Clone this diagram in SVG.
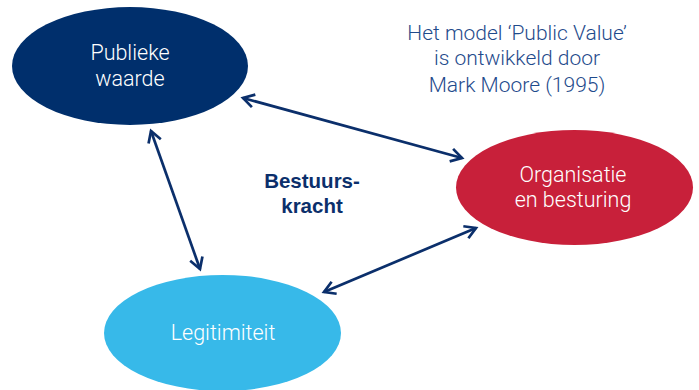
<svg xmlns="http://www.w3.org/2000/svg" width="699" height="390" viewBox="0 0 699 390">
<defs>
<style>
.lbl{font-family:Roboto,"Liberation Sans",Arial,sans-serif;font-weight:300;font-size:21.5px;fill:#ffffff;text-anchor:middle}
.note{font-family:Roboto,"Liberation Sans",Arial,sans-serif;font-weight:300;font-size:21px;fill:#1f4b8c;text-anchor:middle}
.bold{font-family:"Liberation Sans",Arial,sans-serif;font-weight:bold;font-size:20.5px;fill:#0b2f6b;text-anchor:middle}
.conn{stroke:#0b2f6b;stroke-width:2.7;fill:none;marker-start:url(#chev);marker-end:url(#chev)}
</style>
<marker id="chev" viewBox="0 0 16 16" refX="13" refY="8" markerWidth="16" markerHeight="16" markerUnits="userSpaceOnUse" orient="auto-start-reverse">
<path d="M2,1.5 L13,8 L2,14.5" fill="none" stroke="#0b2f6b" stroke-width="2.7" stroke-linejoin="miter"/>
</marker>
</defs>
<rect width="699" height="390" fill="#ffffff"/>
<g id="connectors">
<line class="conn" x1="243" y1="98" x2="462" y2="158"/>
<line class="conn" x1="151" y1="131" x2="200" y2="269"/>
<line class="conn" x1="324" y1="292" x2="476" y2="228"/>
</g>
<g id="publieke-waarde">
<ellipse cx="130" cy="66" rx="118" ry="59" fill="#002f6c"/>
<text class="lbl" x="130" y="60">Publieke</text>
<text class="lbl" x="130" y="86">waarde</text>
</g>
<g id="organisatie">
<ellipse cx="574.5" cy="187.5" rx="118.5" ry="57.5" fill="#c8203a"/>
<text class="lbl" x="573" y="182">Organisatie</text>
<text class="lbl" x="573" y="207">en besturing</text>
</g>
<g id="legitimiteit">
<ellipse cx="222.5" cy="333" rx="118.5" ry="58" fill="#37b9e9"/>
<text class="lbl" x="223" y="340">Legitimiteit</text>
</g>
<g id="bestuurskracht">
<text class="bold" x="312" y="188">Bestuurs-</text>
<text class="bold" x="312" y="213">kracht</text>
</g>
<g id="note">
<text class="note" x="517" y="40">Het model ‘Public Value’</text>
<text class="note" x="517" y="65">is ontwikkeld door</text>
<text class="note" x="517" y="92">Mark Moore (1995)</text>
</g>
</svg>
